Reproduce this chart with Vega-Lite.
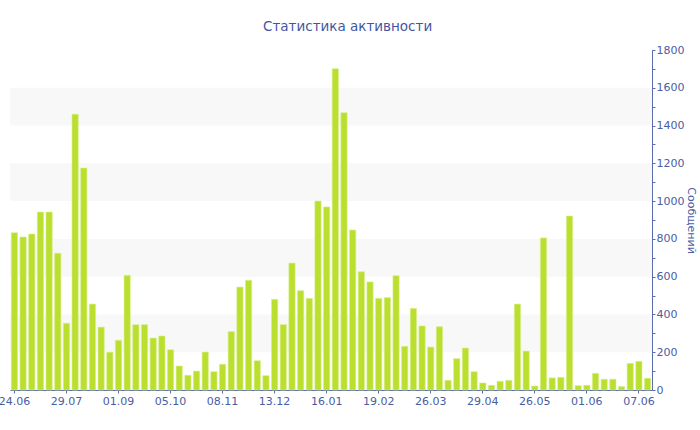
{
  "$schema": "https://vega.github.io/schema/vega-lite/v6.json",
  "width": 642,
  "height": 340,
  "autosize": {"type": "none"},
  "padding": {"left": 10, "top": 50, "right": 48, "bottom": 40},
  "background": "white",
  "title": {
    "text": "Статистика активности",
    "font": "DejaVu Sans",
    "fontSize": 13.5,
    "fontWeight": "normal",
    "color": "#3f57a0",
    "frame": "bounds",
    "anchor": "middle",
    "offset": 11
  },
  "config": {
    "view": {"stroke": null},
    "axis": {
      "labelFont": "DejaVu Sans",
      "titleFont": "DejaVu Sans",
      "labelColor": "#4a5da3",
      "titleColor": "#4a5da3",
      "domainColor": "#5a6db0",
      "tickColor": "#5a6db0",
      "labelFontSize": 11,
      "titleFontSize": 11,
      "titleFontWeight": "normal",
      "grid": false,
      "labelOverlap": false
    },
    "axisY": {"labelOverlap": false, "labelFlush": false}
  },
  "datasets": {
    "bands": [
      {"lo": 200, "hi": 400},
      {"lo": 600, "hi": 800},
      {"lo": 1000, "hi": 1200},
      {"lo": 1400, "hi": 1600}
    ],
    "bars": [
      {"i": 0, "v": 833}, {"i": 1, "v": 810}, {"i": 2, "v": 826}, {"i": 3, "v": 942}, {"i": 4, "v": 942},
      {"i": 5, "v": 724}, {"i": 6, "v": 353}, {"i": 7, "v": 1460}, {"i": 8, "v": 1175}, {"i": 9, "v": 455},
      {"i": 10, "v": 333}, {"i": 11, "v": 200}, {"i": 12, "v": 263}, {"i": 13, "v": 607}, {"i": 14, "v": 346},
      {"i": 15, "v": 346}, {"i": 16, "v": 275}, {"i": 17, "v": 286}, {"i": 18, "v": 213}, {"i": 19, "v": 127},
      {"i": 20, "v": 78}, {"i": 21, "v": 100}, {"i": 22, "v": 201}, {"i": 23, "v": 97}, {"i": 24, "v": 136},
      {"i": 25, "v": 309}, {"i": 26, "v": 545}, {"i": 27, "v": 581}, {"i": 28, "v": 155}, {"i": 29, "v": 76},
      {"i": 30, "v": 480}, {"i": 31, "v": 346}, {"i": 32, "v": 672}, {"i": 33, "v": 526}, {"i": 34, "v": 485},
      {"i": 35, "v": 1000}, {"i": 36, "v": 969}, {"i": 37, "v": 1701}, {"i": 38, "v": 1468}, {"i": 39, "v": 847},
      {"i": 40, "v": 626}, {"i": 41, "v": 572}, {"i": 42, "v": 485}, {"i": 43, "v": 489}, {"i": 44, "v": 605},
      {"i": 45, "v": 231}, {"i": 46, "v": 432}, {"i": 47, "v": 339}, {"i": 48, "v": 227}, {"i": 49, "v": 335},
      {"i": 50, "v": 51}, {"i": 51, "v": 166}, {"i": 52, "v": 222}, {"i": 53, "v": 97}, {"i": 54, "v": 37},
      {"i": 55, "v": 25}, {"i": 56, "v": 46}, {"i": 57, "v": 51}, {"i": 58, "v": 455}, {"i": 59, "v": 206},
      {"i": 60, "v": 21}, {"i": 61, "v": 805}, {"i": 62, "v": 64}, {"i": 63, "v": 67}, {"i": 64, "v": 921},
      {"i": 65, "v": 23}, {"i": 66, "v": 25}, {"i": 67, "v": 88}, {"i": 68, "v": 57}, {"i": 69, "v": 57},
      {"i": 70, "v": 18}, {"i": 71, "v": 141}, {"i": 72, "v": 152}, {"i": 73, "v": 62}
    ]
  },
  "layer": [
    {
      "data": {"name": "bands"},
      "mark": {"type": "rect", "color": "#f8f8f8"},
      "encoding": {
        "y": {
          "field": "lo",
          "type": "quantitative",
          "scale": {"domain": [0, 1800], "nice": false},
          "axis": {
            "orient": "right",
            "title": "Сообщений",
            "values": [0, 100, 200, 300, 400, 500, 600, 700, 800, 900, 1000, 1100, 1200, 1300, 1400, 1500, 1600, 1700, 1800],
            "labelExpr": "datum.value % 200 == 0 ? datum.label : ''",
            "format": "d",
            "tickSize": 3,
            "labelPadding": 1,
            "titlePadding": 2,
            "labelFlush": false,
            "labelOverlap": false
          }
        },
        "y2": {"field": "hi"}
      }
    },
    {
      "data": {"name": "bars"},
      "mark": {"type": "bar", "color": "#bbdf2e", "stroke": "#d8ee8a", "strokeWidth": 0.6},
      "encoding": {
        "x": {
          "field": "i",
          "type": "ordinal",
          "scale": {"paddingInner": 0.28, "paddingOuter": 0.15},
          "axis": {
            "title": null,
            "values": [0, 6, 12, 18, 24, 30, 36, 42, 48, 54, 60, 66, 72],
            "labelExpr": "['24.06','29.07','01.09','05.10','08.11','13.12','16.01','19.02','26.03','29.04','26.05','01.06','07.06'][datum.value / 6]",
            "labelAngle": 0,
            "tickSize": 3,
            "labelPadding": 2
          }
        },
        "y": {
          "field": "v",
          "type": "quantitative",
          "axis": {
            "orient": "right",
            "title": "Сообщений",
            "values": [0, 100, 200, 300, 400, 500, 600, 700, 800, 900, 1000, 1100, 1200, 1300, 1400, 1500, 1600, 1700, 1800],
            "labelExpr": "datum.value % 200 == 0 ? datum.label : ''",
            "format": "d",
            "tickSize": 3,
            "labelPadding": 1,
            "titlePadding": 2,
            "labelFlush": false,
            "labelOverlap": false
          }
        }
      }
    }
  ]
}
